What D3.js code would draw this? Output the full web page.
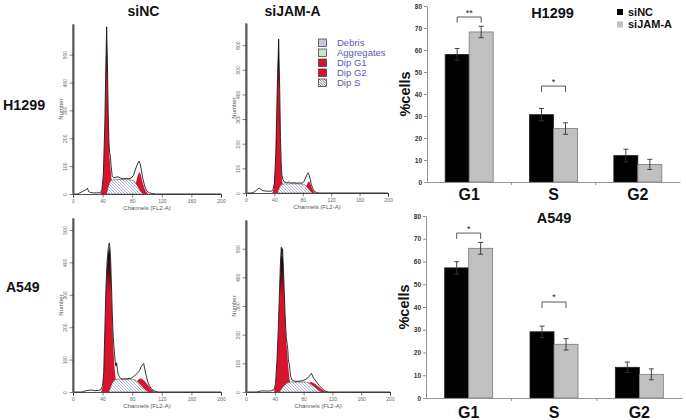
<!DOCTYPE html>
<html><head><meta charset="utf-8">
<script src="https://cdn.jsdelivr.net/npm/d3@7"></script>
<style>body{margin:0;background:#fff} svg{display:block} text{font-family:Arial,"Liberation Sans",sans-serif}</style>
</head><body><svg id="c" width="686" height="420"></svg>
<script>
// ---------- DATA ----------
const phases = ["G1", "S", "G2"];
const groups = ["siNC", "siJAM-A"];
const pctTicks = [0, 10, 20, 30, 40, 50, 60, 70, 80];

const h1299_siNC = [58.0, 30.6, 12.0];
const h1299_siNC_err = [2.7, 2.8, 2.9];
const h1299_siJAM = [68.2, 24.3, 8.0];
const h1299_siJAM_err = [2.6, 2.6, 2.3];

const a549_siNC = [57.2, 29.1, 13.5];
const a549_siNC_err = [2.7, 2.5, 2.3];
const a549_siJAM = [65.8, 23.6, 10.4];
const a549_siJAM_err = [2.6, 2.5, 2.4];

const h1299_sig = [["G1", 75, "**"], ["S", 43.6, "*"]];
const a549_sig = [["G1", 72.5, "*"], ["S", 42.2, "*"]];

const channelTicks = [0, 40, 80, 120, 160, 200];
const countTicksA = [0, 100, 200, 300, 400, 500];
const countTicksB = [0, 100, 200, 300, 400, 500, 600];
const histLegend = ["Debris", "Aggregates", "Dip G1", "Dip G2", "Dip S"];

// H1299 siNC histogram [channel, count]
const h_nc_outline = [[0,0],[6,0],[9,4],[13,9],[16,13],[18,16],[19.5,21],[21,9],[24,5],[28,4],[33,4],[37,5],[39,15],[41,70],[43,250],[44.5,480],[45.5,600],[46.5,470],[47.5,300],[48.5,190],[49.5,150],[50.5,135],[51.5,100],[53,65],[55,58],[58,60],[61,62],[64,57],[68,55],[72,56],[76,55],[79,58],[82,68],[84,85],[86,100],[88,112],[89.5,118],[91,105],[92.5,85],[94,60],[96,38],[98,20],[100,10],[103,4],[107,2],[112,0],[200,0]];
const h_nc_g1 = [[37,0],[39,12],[41,65],[43,240],[44.5,470],[45.5,590],[46.5,460],[47.5,290],[48.5,180],[49.5,130],[50.5,95],[52,55],[53.5,25],[55,8],[57,0]];
const h_nc_s = [[45,0],[47,20],[49,38],[51,48],[55,51],[65,52],[75,51],[80,50],[83,45],[86,34],[89,20],[92,8],[95,0]];
const h_nc_g2 = [[80,0],[83,18],[85,40],[87,62],[89,76],[90,78],[91.5,70],[93,52],[95,33],[97,17],[99,7],[102,0]];

// H1299 siJAM-A histogram
const h_ja_outline = [[0,0],[8,0],[12,5],[15,12],[17,17],[19,19],[21,15],[23,10],[27,8],[32,7],[36,8],[38,12],[40,40],[42,160],[44,420],[46,625],[47.5,420],[48.5,230],[49.5,130],[50.5,75],[52,55],[54,45],[57,42],[60,45],[63,40],[67,42],[71,40],[75,41],[79,40],[82,48],[84,62],[86,75],[87.5,82],[89,72],[90.5,55],[92,35],[94,18],[96,8],[99,2],[104,0],[200,0]];
const h_ja_g1 = [[37,0],[39,15],[41,90],[43,280],[44.5,500],[46,615],[47.5,400],[48.5,210],[49.5,110],[50.5,60],[52,28],[53.5,8],[55,0]];
const h_ja_s = [[44,0],[46,15],[48,28],[50,35],[55,37],[65,38],[75,37],[80,36],[83,32],[86,24],[89,13],[92,4],[94,0]];
const h_ja_g2 = [[81,0],[83,12],[85,28],[87,42],[88.5,48],[90,42],[91.5,30],[93,18],[95,8],[97,2],[99,0]];

// A549 siNC histogram
const a_nc_outline = [[0,0],[12,0],[16,3],[20,5],[25,6],[30,4],[35,5],[38,8],[40,20],[41.5,60],[43,190],[44.5,320],[46,400],[47.5,440],[49,460],[50,445],[51,400],[52,330],[53,250],[54,185],[55,150],[56,120],[57,95],[58,80],[59,90],[60,70],[61,55],[63,45],[66,40],[70,40],[74,41],[78,42],[81,46],[84,52],[87,58],[90,66],[92,78],[94,84],[95.5,88],[97,70],[99,50],[101,32],[103,20],[106,10],[110,3],[115,0],[200,0]];
const a_nc_g1 = [[38,0],[40,15],[41.5,55],[43,180],[44.5,310],[46,390],[47.5,430],[49,450],[50,432],[51,385],[52,310],[53,230],[54,160],[55,115],[56,80],[57,55],[58,35],[60,12],[62,0]];
const a_nc_s = [[48,0],[50,10],[52,22],[54,32],[57,38],[62,40],[70,40],[78,40],[83,38],[87,32],[91,23],[95,13],[99,5],[102,0]];
const a_nc_g2 = [[84,0],[86,30],[88,38],[90,41],[92,42],[94,39],[97,33],[100,25],[103,16],[106,8],[109,2],[111,0]];

// A549 siJAM-A histogram
const a_ja_outline = [[0,0],[15,0],[20,3],[25,4],[30,3],[35,4],[39,8],[41,30],[43,110],[45,230],[46.5,350],[48,460],[49,505],[50,480],[50.8,500],[52,430],[53,360],[54,290],[55,230],[56,190],[57,170],[58,150],[59,105],[60,100],[61,75],[62,55],[64,42],[67,38],[71,37],[75,38],[79,40],[83,44],[86,50],[88,56],[90,62],[91,65],[92.5,55],[94,48],[96,42],[99,32],[102,22],[105,14],[108,6],[111,2],[115,0],[200,0]];
const a_ja_g1 = [[39,0],[41,25],[43,100],[45,220],[46.5,340],[48,450],[49,495],[50,470],[50.8,490],[52,420],[53,350],[54,280],[55,220],[56,175],[57,145],[58,110],[59,80],[60,55],[61,35],[62,20],[64,5],[66,0]];
const a_ja_s = [[46,0],[49,10],[52,20],[55,28],[58,33],[62,35],[70,35],[80,35],[86,33],[90,28],[94,20],[98,12],[102,5],[105,0]];
const a_ja_g2 = [[85,0],[87,30],[89,34],[91,35],[94,31],[97,26],[100,20],[103,14],[106,8],[109,3],[112,0]];

// ---------- DRAW ----------
const svg = d3.select("#c");
const RED = "#d8142c";
const defs = svg.append("defs");
const pat = defs.append("pattern").attr("id", "hatch").attr("patternUnits", "userSpaceOnUse")
  .attr("width", 3).attr("height", 3);
pat.append("rect").attr("width", 3).attr("height", 3).attr("fill", "#fff");
pat.append("path").attr("d", "M0,0L3,3M-1,2L1,4M2,-1L4,1").attr("stroke", "#8c8cc8").attr("stroke-width", 0.7);
const pat2 = defs.append("pattern").attr("id", "hatch2").attr("patternUnits", "userSpaceOnUse")
  .attr("width", 2.5).attr("height", 2.5);
pat2.append("rect").attr("width", 2.5).attr("height", 2.5).attr("fill", "#fff");
pat2.append("path").attr("d", "M0,0L2.5,2.5M-1,1.5L1,3.5M1.5,-1L3.5,1").attr("stroke", "#333").attr("stroke-width", 0.6);
const grad = defs.append("linearGradient").attr("id", "g1grad").attr("x1", 0).attr("y1", 0).attr("x2", 0).attr("y2", 1);
grad.append("stop").attr("offset", 0).attr("stop-color", "#111");
grad.append("stop").attr("offset", 0.12).attr("stop-color", "#2a0a0e");
grad.append("stop").attr("offset", 0.32).attr("stop-color", RED);
grad.append("stop").attr("offset", 1).attr("stop-color", RED);

function drawHist(p) {
  const g = svg.append("g");
  const x = d3.scaleLinear().domain([0, 200]).range([p.left, p.right]);
  const y = d3.scaleLinear().domain([0, p.yMax]).range([p.base, p.top]);
  const area = d3.area().x(d => x(d[0])).y0(y(0)).y1(d => y(d[1]));
  const line = d3.line().x(d => x(d[0])).y(d => y(d[1]));

  g.append("path").attr("d", area(p.g1)).attr("fill", "url(#g1grad)");
  g.append("path").attr("d", area(p.g2)).attr("fill", RED);
  g.append("path").attr("d", area(p.s)).attr("fill", "url(#hatch)").attr("stroke", "#333").attr("stroke-width", 0.5);
  g.append("path").attr("d", line(p.outline)).attr("fill", "none").attr("stroke", "#111").attr("stroke-width", 0.85);

  // x axis
  const xa = g.append("g").attr("transform", `translate(0,${p.base})`);
  xa.call(d3.axisBottom(x).tickValues(d3.range(0, 201, 10)).tickSize(2).tickFormat(""));
  xa.call(d3.axisBottom(x).tickValues(channelTicks).tickSize(3.5).tickFormat(d3.format("d")));
  xa.selectAll("path.domain").attr("stroke", "#222").attr("stroke-width", 0.8);
  xa.selectAll("line").attr("stroke", "#333").attr("stroke-width", 0.6);
  xa.selectAll("text").attr("font-size", 5).attr("fill", "#666").attr("y", 5);

  // y axis
  const ya = g.append("g").attr("transform", `translate(${p.left},0)`);
  ya.call(d3.axisLeft(y).tickValues(d3.range(0, p.yMax, 20)).tickSize(1.8).tickFormat("").tickSizeOuter(0));
  ya.call(d3.axisLeft(y).tickValues(p.yTicks).tickSize(3.5).tickFormat(d3.format("d")).tickSizeOuter(0));
  ya.selectAll("path.domain").attr("stroke", "#777").attr("stroke-width", 2.2);
  ya.selectAll("line").attr("stroke", "#333").attr("stroke-width", 0.6);
  ya.selectAll("text").attr("font-size", 5).attr("fill", "#666")
    .attr("x", 0).attr("dy", 0).attr("text-anchor", "middle")
    .attr("transform", "translate(-6,0) rotate(-90)");
  g.append("line").attr("x1", p.left).attr("x2", p.left).attr("y1", p.base).attr("y2", p.top)
    .attr("stroke", "#111").attr("stroke-width", 0.6);

  g.append("text").attr("transform", `translate(${p.left - 10},${(p.base + p.top) / 2}) rotate(-90)`)
    .attr("text-anchor", "middle").attr("font-size", 6).attr("fill", "#555").text("Number");
  g.append("text").attr("x", (p.left + p.right) / 2).attr("y", p.base + 16)
    .attr("text-anchor", "middle").attr("font-size", 6).attr("fill", "#555").text("Channels (FL2-A)");
}

drawHist({left: 73, right: 221, base: 194, top: 24, yMax: 610, yTicks: countTicksA,
  outline: h_nc_outline, g1: h_nc_g1, s: h_nc_s, g2: h_nc_g2});
drawHist({left: 246, right: 388, base: 193, top: 23, yMax: 690, yTicks: countTicksB,
  outline: h_ja_outline, g1: h_ja_g1, s: h_ja_s, g2: h_ja_g2});
drawHist({left: 73, right: 221, base: 392, top: 218, yMax: 537, yTicks: countTicksA,
  outline: a_nc_outline, g1: a_nc_g1, s: a_nc_s, g2: a_nc_g2});
drawHist({left: 246, right: 390, base: 392, top: 220, yMax: 600, yTicks: countTicksA,
  outline: a_ja_outline, g1: a_ja_g1, s: a_ja_s, g2: a_ja_g2});

// histogram legend
const legFills = ["#cbc4e0", "#c9e6c1", RED, RED, "url(#hatch2)"];
const lg = svg.append("g");
histLegend.forEach((t, i) => {
  lg.append("rect").attr("x", 318.5).attr("y", 39 + i * 10).attr("width", 8).attr("height", 7.5)
    .attr("fill", legFills[i]).attr("stroke", "#333").attr("stroke-width", 0.7);
  lg.append("text").attr("x", 337).attr("y", 46 + i * 10).attr("font-size", 9.5).attr("fill", "#5b5ba6").text(t);
});

// panel titles
function label(x, y, t, size, anchor) {
  svg.append("text").attr("x", x).attr("y", y).attr("font-size", size).attr("font-weight", "bold")
    .attr("text-anchor", anchor || "middle").attr("fill", "#111").text(t);
}
label(143.5, 16, "siNC", 14);
label(292.5, 16, "siJAM-A", 14);
label(3, 110, "H1299", 14.3, "start");
label(6, 292, "A549", 14, "start");

// ---------- BAR CHARTS ----------
function drawBars(p) {
  const g = svg.append("g");
  const x0 = d3.scaleBand().domain(phases).range([p.left, p.right]);
  const bw = 24;
  const x1 = d3.scaleBand().domain(groups).range([x0.bandwidth() / 2 - bw, x0.bandwidth() / 2 + bw]);
  const y = d3.scaleLinear().domain([0, 80]).range([p.base, p.top]);
  const series = [
    {name: "siNC", vals: p.nc, errs: p.ncErr, fill: "#000", stroke: "#222"},
    {name: "siJAM-A", vals: p.ja, errs: p.jaErr, fill: "#c0c0c0", stroke: "#7a7a7a"}
  ];
  series.forEach(s => {
    phases.forEach((ph, i) => {
      const bx = x0(ph) + x1(s.name);
      g.append("rect").attr("x", bx).attr("y", y(s.vals[i])).attr("width", x1.bandwidth())
        .attr("height", y(0) - y(s.vals[i])).attr("fill", s.fill).attr("stroke", s.stroke).attr("stroke-width", 0.8);
      const cx = bx + x1.bandwidth() / 2;
      g.append("line").attr("x1", cx).attr("x2", cx).attr("y1", y(s.vals[i] + s.errs[i])).attr("y2", y(s.vals[i] - s.errs[i]))
        .attr("stroke", "#333").attr("stroke-width", 0.9);
      [s.vals[i] + s.errs[i], s.vals[i] - s.errs[i]].forEach(v => {
        g.append("line").attr("x1", cx - 2.5).attr("x2", cx + 2.5).attr("y1", y(v)).attr("y2", y(v))
          .attr("stroke", "#333").attr("stroke-width", 0.9);
      });
    });
  });
  // significance brackets
  p.sig.forEach(([ph, lev, txt]) => {
    const xa = x0(ph) + x1("siNC") + x1.bandwidth() / 2;
    const xb = x0(ph) + x1("siJAM-A") + x1.bandwidth() / 2;
    g.append("path").attr("d", `M${xa},${y(lev - 2.6)}V${y(lev)}H${xb}V${y(lev - 2.6)}`)
      .attr("fill", "none").attr("stroke", "#444").attr("stroke-width", 0.9);
    g.append("text").attr("x", (xa + xb) / 2).attr("y", y(lev) - 1.5).attr("text-anchor", "middle")
      .attr("font-size", 9).attr("fill", "#222").text(txt);
  });
  // y axis
  const ya = g.append("g").attr("transform", `translate(${p.left},0)`);
  ya.call(d3.axisLeft(y).tickValues(pctTicks).tickSize(3).tickSizeOuter(0).tickFormat(d3.format("d")));
  ya.selectAll("path.domain, line").attr("stroke", "#888").attr("stroke-width", 0.9);
  ya.selectAll("text").attr("font-size", 6.5).attr("font-weight", "bold").attr("fill", "#333").attr("x", -5);
  // x axis
  const xa = g.append("g").attr("transform", `translate(0,${p.base})`);
  xa.call(d3.axisBottom(x0).tickSize(0).tickSizeOuter(0).tickFormat(""));
  xa.selectAll("path.domain").attr("stroke", "#888").attr("stroke-width", 0.9);
  phases.slice(1).forEach(ph => {
    g.append("line").attr("x1", x0(ph)).attr("x2", x0(ph)).attr("y1", p.base).attr("y2", p.base + 3)
      .attr("stroke", "#888").attr("stroke-width", 0.9);
  });
  phases.forEach(ph => {
    g.append("text").attr("x", x0(ph) + x0.bandwidth() / 2).attr("y", p.labelY).attr("text-anchor", "middle")
      .attr("font-size", 16).attr("font-weight", "bold").attr("fill", "#111").text(ph);
  });
  g.append("text").attr("transform", `translate(${p.left - 17},${(p.base + p.top) / 2}) rotate(-90)`)
    .attr("text-anchor", "middle").attr("font-size", 14.5).attr("font-weight", "bold").attr("fill", "#111").text("%cells");
  g.append("text").attr("x", p.titleX).attr("y", p.titleY).attr("text-anchor", "middle")
    .attr("font-size", 14.5).attr("font-weight", "bold").attr("fill", "#111").text(p.title);
}

drawBars({left: 427, right: 680, base: 182, top: 6, nc: h1299_siNC, ncErr: h1299_siNC_err, ja: h1299_siJAM, jaErr: h1299_siJAM_err,
  sig: h1299_sig, labelY: 199.5, title: "H1299", titleX: 552.5, titleY: 17.5});
drawBars({left: 426, right: 682, base: 398, top: 216, nc: a549_siNC, ncErr: a549_siNC_err, ja: a549_siJAM, jaErr: a549_siJAM_err,
  sig: a549_sig, labelY: 418, title: "A549", titleX: 554, titleY: 223});

// bar legend
const bl = svg.append("g");
groups.forEach((gname, i) => {
  bl.append("rect").attr("x", 617).attr("y", 9 + i * 12.5).attr("width", 6).attr("height", 6)
    .attr("fill", i === 0 ? "#000" : "#c0c0c0");
  bl.append("text").attr("x", 628).attr("y", 15.5 + i * 12.5).attr("font-size", 11).attr("font-weight", "bold")
    .attr("fill", "#111").text(gname);
});
</script>
</body></html>
